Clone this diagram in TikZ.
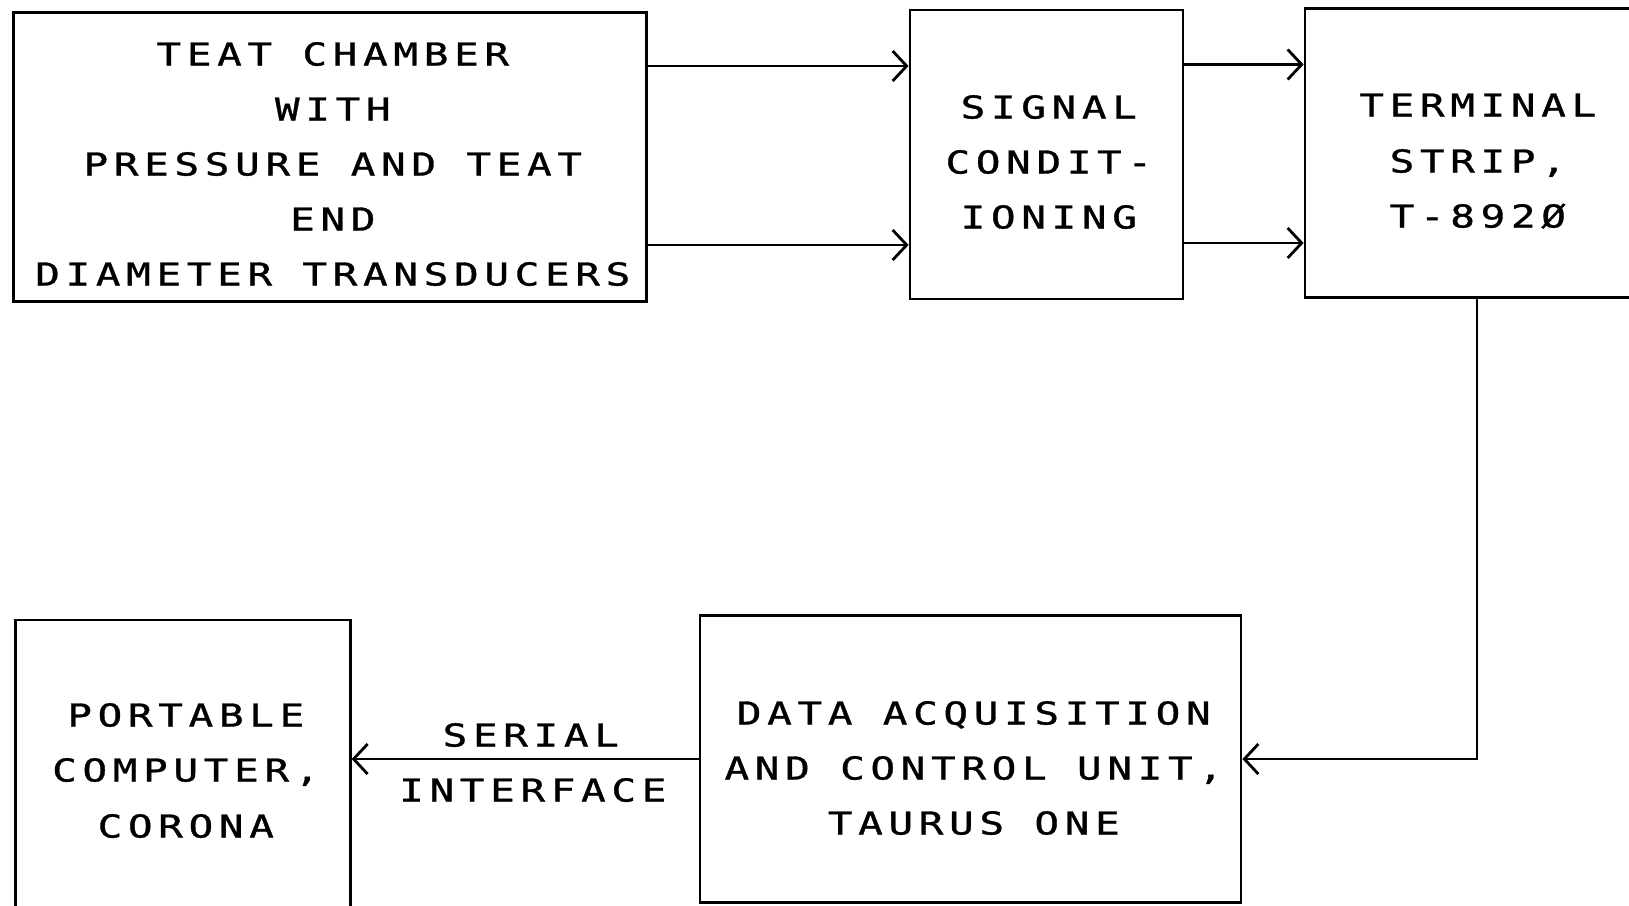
\documentclass[tikz,border=0pt]{standalone}
\usepackage{fontspec}
\newfontfamily\plotfont[FakeStretch=1.3,LetterSpace=18,FakeBold=1]{DejaVu Sans Mono}
\usetikzlibrary{arrows.meta}
\tikzset{
  box/.style={draw, line width=2.8pt, rectangle, inner sep=0pt},
  arr/.style={line width=2.8pt, -{Straight Barb[length=14pt,width=30pt,line width=2.8pt]}},
  lbl/.style={anchor=base, inner sep=0pt, font=\plotfont\fontsize{31.5}{31.5}\selectfont, xshift=2.8pt},
}
\begin{document}
\begin{tikzpicture}[x=1pt,y=-1pt]
\useasboundingbox[fill=white] (0,0) rectangle (1629,905);
\clip (0,0) rectangle (1629,905);
% boxes
\node[box, minimum width=632.5pt, minimum height=289.5pt] (b1) at (330,157) {};
\node[box, minimum width=273pt, minimum height=289pt] (b2) at (1046.5,154.5) {};
\node[box, minimum width=344pt, minimum height=289pt] (b3) at (1477,153) {};
\node[box, minimum width=334.5pt, minimum height=300pt] (b4) at (183,770) {};
\node[box, minimum width=541pt, minimum height=287pt] (b5) at (970.5,759) {};
% texts
\node[lbl] (t11) at (330,65.5) {TEAT CHAMBER};
\node[lbl] (t12) at (330,120.5) {WITH};
\node[lbl] (t13) at (330,175.5) {PRESSURE AND TEAT};
\node[lbl] (t14) at (330,230.5) {END};
\node[lbl] (t15) at (330,285.5) {DIAMETER TRANSDUCERS};
\node[lbl] (t21) at (1046,118.5) {SIGNAL};
\node[lbl] (t22) at (1046,173.5) {CONDIT-};
\node[lbl] (t23) at (1046,228.5) {IONING};
\node[lbl] (t31) at (1475,116.5) {TERMINAL};
\node[lbl] (t32) at (1475,172.5) {STRIP,};
\node[lbl] (t33) at (1475,227.5) {T-892\O};
\node[lbl] (t41) at (183,726.5) {PORTABLE};
\node[lbl] (t42) at (183,781.5) {COMPUTER,};
\node[lbl] (t43) at (183,837.5) {CORONA};
\node[lbl] (t51) at (971,724.5) {DATA ACQUISITION};
\node[lbl] (t52) at (971,779.5) {AND CONTROL UNIT,};
\node[lbl] (t53) at (971,834.5) {TAURUS ONE};
\node[lbl] (s1) at (528,746.5) {SERIAL};
\node[lbl] (s2) at (530,801.5) {INTERFACE};
% connectors
\coordinate (ya) at (0,66);
\coordinate (yb) at (0,245);
\coordinate (yc) at (0,64.5);
\coordinate (yd) at (0,243);
\draw[arr] (b1.east |- ya) -- (b2.west |- ya);
\draw[arr] (b1.east |- yb) -- (b2.west |- yb);
\draw[arr] (b2.east |- yc) -- (b3.west |- yc);
\draw[arr] (b2.east |- yd) -- (b3.west |- yd);
\draw[arr] (b3.south) |- (b5.east);
\draw[arr] (b5.west) -- (b4.east |- b5.west);
\end{tikzpicture}
\end{document}
